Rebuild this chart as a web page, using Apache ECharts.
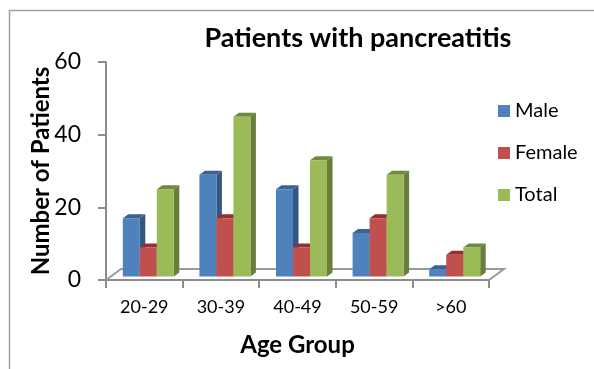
<!DOCTYPE html>
<html>
<head>
<meta charset="utf-8">
<style>
    html, body { margin: 0; padding: 0; background: #fff; }
    #main { width: 594px; height: 369px; }
</style>
</head>
<body>
<div id="main"></div>
<script src="https://cdn.jsdelivr.net/npm/echarts@6/dist/echarts.min.js"></script>
<script>
    var categories = ['20-29', '30-39', '40-49', '50-59', '>60'];
    var male = [16, 28, 24, 12, 2];
    var female = [8, 16, 8, 16, 6];
    var total = [24, 44, 32, 28, 8];
    var yTicks = [0, 20, 40, 60];

    var myChart = echarts.init(document.getElementById('main'));

    // fake 3d column: front, side and top faces
    function bar3d(seriesIndex, front, side, top) {
        return function (params, api) {
            var catIdx = api.value(0);
            var base = api.coord([catIdx, 0]);
            var head = api.coord([catIdx, api.value(1)]);
            var w = api.size([1, 0])[0] * 0.222;
            var x = base[0] + (seriesIndex - 1.5) * w + 4;
            var bottom = base[1] - 3.5;
            var y = head[1] - 3.5;
            var dx = 5.5, dy = 4;
            return {
                type: 'group',
                children: [
                    { type: 'polygon', shape: { points: [[x + w, bottom], [x + w + dx, bottom - dy], [x + w + dx, y - dy], [x + w, y]] }, style: { fill: side } },
                    { type: 'polygon', shape: { points: [[x, y], [x + dx, y - dy], [x + w + dx, y - dy], [x + w, y]] }, style: { fill: top } },
                    { type: 'rect', shape: { x: x, y: y, width: w, height: bottom - y }, style: { fill: front } }
                ]
            };
        };
    }

    // floor outline of the 3d box
    function floorItem(params, api) {
        var half = api.size([1, 0])[0] / 2;
        var a = api.coord([0, 0]);
        var b = api.coord([categories.length - 1, 0]);
        var left = a[0] - half, right = b[0] + half;
        var dx = 15, dy = 11;
        return {
            type: 'polyline',
            shape: { points: [[left, a[1]], [left + dx, a[1] - dy], [right + dx, b[1] - dy], [right, b[1]]] },
            style: { fill: null, stroke: '#9a9a9a', lineWidth: 2 }
        };
    }

    function seriesOf(name, data, idx, front, side, top) {
        return {
            name: name,
            type: 'custom',
            z: 3,
            itemStyle: { color: front },
            encode: { x: 0, y: 1 },
            data: data.map(function (v, i) { return [i, v]; }),
            renderItem: bar3d(idx, front, side, top)
        };
    }

    var option = {
        animation: false,
        title: {
            text: 'Patients with pancreatitis',
            left: 358,
            top: 25,
            padding: 0,
            textAlign: 'center',
            textStyle: { fontFamily: 'Lato', fontSize: 27, fontWeight: 'bold', color: '#000' }
        },
        legend: {
            orient: 'vertical',
            left: 498,
            top: 100,
            padding: 0,
            itemWidth: 12,
            itemHeight: 12,
            itemGap: 20,
            icon: 'rect',
            data: ['Male', 'Female', 'Total'],
            textStyle: { fontFamily: 'Lato', fontSize: 20, color: '#000', padding: [0, 0, 0, 0], lineHeight: 22 }
        },
        grid: { left: 106, top: 62, width: 383, height: 218 },
        xAxis: {
            type: 'category',
            data: categories,
            name: 'Age Group',
            nameLocation: 'middle',
            nameGap: 53,
            nameTextStyle: { fontFamily: 'Lato', fontSize: 24, fontWeight: 'bold', color: '#000' },
            axisLine: { show: true, onZero: false, lineStyle: { color: '#8c8c8c', width: 2 } },
            axisTick: { show: true, length: 8, lineStyle: { color: '#8c8c8c', width: 2 } },
            axisLabel: { fontFamily: 'Lato', fontSize: 18, color: '#000', margin: 18 }
        },
        yAxis: {
            type: 'value',
            min: yTicks[0],
            max: yTicks[yTicks.length - 1],
            interval: 20,
            name: 'Number of Patients',
            nameLocation: 'middle',
            nameGap: 53,
            nameMoveOverlap: false,
            nameTextStyle: { fontFamily: 'Lato', fontSize: 24, fontWeight: 'bold', color: '#000' },
            splitLine: { show: false },
            axisLine: { show: true, lineStyle: { color: '#8c8c8c', width: 2 } },
            axisTick: { show: true, length: 8, lineStyle: { color: '#8c8c8c', width: 2 } },
            axisLabel: { fontFamily: 'Lato', fontSize: 23, color: '#000', margin: 25 }
        },
        graphic: [
            { type: 'polyline', shape: { points: [[9.5, 369], [9.5, 10.5], [594, 10.5]] }, style: { fill: null, stroke: '#a0a0a0', lineWidth: 1.5 } }
        ],
        series: [
            {
                type: 'custom',
                silent: true,
                z: 1,
                data: [[0, 0]],
                encode: { x: 0, y: 1 },
                renderItem: floorItem
            },
            seriesOf('Male', male, 0, '#4f81bd', '#335781', '#3a6292'),
            seriesOf('Female', female, 1, '#c0504d', '#893735', '#94312f'),
            seriesOf('Total', total, 2, '#9bbb59', '#687e3a', '#71893f')
        ]
    };
    myChart.setOption(option);
</script>
</body>
</html>
